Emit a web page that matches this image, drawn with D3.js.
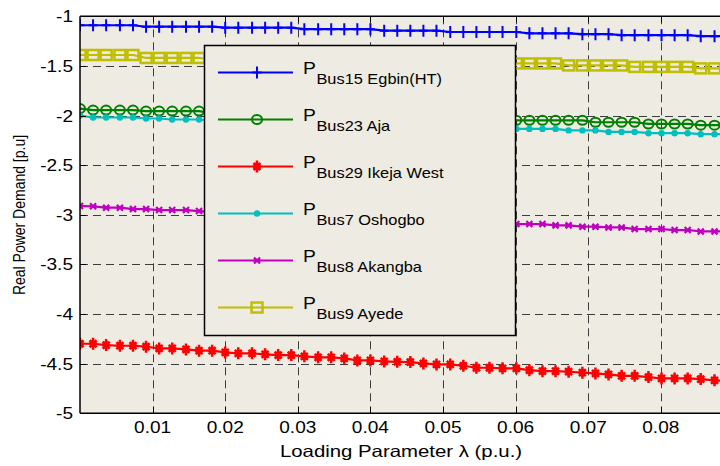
<!DOCTYPE html>
<html>
<head>
<meta charset="utf-8">
<script src="https://cdn.jsdelivr.net/npm/d3@7"></script>
<style>
  html, body { margin: 0; padding: 0; background: #ffffff; }
  svg { display: block; }
  text { font-family: "Liberation Sans", Arial, sans-serif; fill: #000; }
</style>
</head>
<body>
<svg id="chart" width="720" height="466"></svg>
<script>
// Loading parameter lambda (p.u.) at each continuation step
const lambda = [0, 0.0018, 0.0036, 0.0055, 0.0073, 0.0091, 0.0109, 0.0127, 0.0146, 0.0164,
  0.0182, 0.0200, 0.0218, 0.0237, 0.0255, 0.0273, 0.0291, 0.0309, 0.0328, 0.0346,
  0.0364, 0.0382, 0.0400, 0.0419, 0.0437, 0.0455, 0.0473, 0.0491, 0.0510, 0.0528,
  0.0546, 0.0564, 0.0582, 0.0601, 0.0619, 0.0637, 0.0655, 0.0673, 0.0692, 0.0710,
  0.0728, 0.0746, 0.0764, 0.0783, 0.0801, 0.0819, 0.0837, 0.0855, 0.0874, 0.0892];

// Real power demand per bus (p.u.)
const egbin = [-1.09, -1.09, -1.09, -1.09, -1.09, -1.105, -1.105, -1.105, -1.105, -1.105,
  -1.105, -1.115, -1.115, -1.115, -1.115, -1.115, -1.115, -1.13, -1.13, -1.13,
  -1.13, -1.13, -1.13, -1.145, -1.145, -1.145, -1.145, -1.145, -1.158, -1.158,
  -1.158, -1.158, -1.158, -1.158, -1.172, -1.172, -1.172, -1.172, -1.18, -1.18,
  -1.18, -1.19, -1.19, -1.19, -1.19, -1.19, -1.19, -1.20, -1.20, -1.20];

const aja = [-1.93, -1.945, -1.945, -1.945, -1.945, -1.955, -1.955, -1.955, -1.955, -1.955,
  -1.975, -1.975, -1.975, -1.975, -1.975, -1.975, -1.975, -1.995, -1.995, -1.995,
  -1.995, -1.995, -1.995, -2.015, -2.015, -2.015, -2.015, -2.015, -2.03, -2.03,
  -2.03, -2.03, -2.03, -2.048, -2.048, -2.048, -2.048, -2.048, -2.048, -2.068,
  -2.068, -2.068, -2.068, -2.085, -2.085, -2.085, -2.085, -2.097, -2.097, -2.097];

const ikejaWest = [-4.30, -4.30, -4.313, -4.32, -4.32, -4.33, -4.347, -4.347, -4.357, -4.37,
  -4.37, -4.387, -4.397, -4.397, -4.407, -4.414, -4.414, -4.427, -4.437, -4.437,
  -4.448, -4.468, -4.468, -4.478, -4.482, -4.485, -4.498, -4.508, -4.508, -4.522,
  -4.542, -4.542, -4.548, -4.548, -4.566, -4.576, -4.576, -4.582, -4.592, -4.599,
  -4.609, -4.623, -4.623, -4.636, -4.65, -4.65, -4.65, -4.656, -4.669, -4.675];

const oshogbo = [-2.0, -2.02, -2.02, -2.02, -2.02, -2.03, -2.03, -2.04, -2.04, -2.04,
  -2.055, -2.055, -2.055, -2.055, -2.055, -2.055, -2.075, -2.075, -2.075, -2.075,
  -2.075, -2.075, -2.095, -2.095, -2.095, -2.095, -2.095, -2.095, -2.115, -2.115,
  -2.115, -2.115, -2.115, -2.135, -2.135, -2.135, -2.135, -2.15, -2.15, -2.15,
  -2.165, -2.165, -2.165, -2.178, -2.178, -2.178, -2.178, -2.188, -2.188, -2.188];

const akangba = [-2.912, -2.915, -2.929, -2.929, -2.943, -2.943, -2.953, -2.953, -2.953, -2.963,
  -2.975, -2.975, -2.975, -2.975, -2.995, -2.995, -2.995, -2.995, -2.995, -3.02,
  -3.02, -3.02, -3.02, -3.02, -3.045, -3.045, -3.045, -3.045, -3.045, -3.07,
  -3.07, -3.07, -3.07, -3.094, -3.094, -3.094, -3.107, -3.107, -3.12, -3.12,
  -3.128, -3.128, -3.144, -3.144, -3.144, -3.154, -3.154, -3.168, -3.168, -3.168];

const ayede = [-1.39, -1.39, -1.39, -1.39, -1.39, -1.42, -1.42, -1.42, -1.42, -1.42,
  -1.43, -1.43, -1.43, -1.43, -1.43, -1.43, -1.43, -1.445, -1.445, -1.445,
  -1.445, -1.445, -1.445, -1.445, -1.445, -1.46, -1.46, -1.46, -1.46, -1.46,
  -1.46, -1.46, -1.46, -1.475, -1.475, -1.475, -1.475, -1.495, -1.495, -1.495,
  -1.495, -1.495, -1.51, -1.51, -1.51, -1.51, -1.51, -1.525, -1.525, -1.525];

const busLabels = ["Bus15 Egbin(HT)", "Bus23 Aja", "Bus29 Ikeja West", "Bus7 Oshogbo", "Bus8 Akangba", "Bus9 Ayede"];
const xTicks = [0.01, 0.02, 0.03, 0.04, 0.05, 0.06, 0.07, 0.08, 0.09];
const xTickLabels = ["0.01", "0.02", "0.03", "0.04", "0.05", "0.06", "0.07", "0.08"];
const yTicks = [-1, -1.5, -2, -2.5, -3, -3.5, -4, -4.5, -5];
const yTickLabels = ["-1", "-1.5", "-2", "-2.5", "-3", "-3.5", "-4", "-4.5", "-5"];

const series = [
  { values: egbin,     color: "#0000ff", marker: "plus" },
  { values: aja,       color: "#008000", marker: "circle" },
  { values: ikejaWest, color: "#ff0000", marker: "star" },
  { values: oshogbo,   color: "#00bfbf", marker: "dot" },
  { values: akangba,   color: "#bf00bf", marker: "cross" },
  { values: ayede,     color: "#bfbf00", marker: "square" }
];

const W = 720, H = 466;
const plot = { left: 80, top: 16.3, right: 733.4, bottom: 413.2 };
const bg = "#eeebe2";
const SX = 1.17; // horizontal text stretch

const svg = d3.select("#chart");
const x = d3.scaleLinear().domain([0, 0.09]).range([plot.left, plot.right]);
const y = d3.scaleLinear().domain([-5, -1]).range([plot.bottom, plot.top]);

// plot background
svg.append("rect")
  .attr("x", plot.left).attr("y", plot.top)
  .attr("width", plot.right - plot.left).attr("height", plot.bottom - plot.top)
  .attr("fill", bg);

svg.append("clipPath").attr("id", "plotClip").append("rect")
  .attr("x", plot.left).attr("y", plot.top - 8)
  .attr("width", plot.right - plot.left + 10).attr("height", plot.bottom - plot.top + 16);

// dashed grid
const grid = svg.append("g").attr("stroke", "#3c3c3c").attr("stroke-width", 1)
  .attr("stroke-dasharray", "8,5").attr("fill", "none");
grid.selectAll("line.gx").data(xTicks).join("line")
  .attr("x1", d => Math.round(x(d)) + 0.5).attr("x2", d => Math.round(x(d)) + 0.5)
  .attr("y1", plot.top).attr("y2", plot.bottom);
grid.selectAll("line.gy").data(yTicks.filter(d => d > -5 && d < -1)).join("line")
  .attr("x1", plot.left).attr("x2", plot.right)
  .attr("y1", d => Math.round(y(d)) + 0.5).attr("y2", d => Math.round(y(d)) + 0.5);

// marker shapes
function drawMarker(g, type, color) {
  if (type === "plus") {
    g.append("path").attr("d", "M-4.5,0H4.5M0,-6V6")
      .attr("stroke", color).attr("stroke-width", 2).attr("fill", "none");
  } else if (type === "circle") {
    g.append("ellipse").attr("rx", 5).attr("ry", 4.5)
      .attr("stroke", color).attr("stroke-width", 2).attr("fill", "none");
  } else if (type === "star") {
    g.append("path").attr("d", "M0,-6V6M-4,0H4M-3.5,-3.5L3.5,3.5M-3.5,3.5L3.5,-3.5")
      .attr("stroke", color).attr("stroke-width", 2.5).attr("fill", "none");
    g.append("ellipse").attr("rx", 3).attr("ry", 4).attr("fill", color);
  } else if (type === "dot") {
    g.append("circle").attr("r", 3.2).attr("fill", color);
  } else if (type === "cross") {
    g.append("path").attr("d", "M-3,-3L3,3M-3,3L3,-3M-3.5,0H3.5")
      .attr("stroke", color).attr("stroke-width", 2.2).attr("fill", "none");
  } else if (type === "square") {
    g.append("rect").attr("x", -5.5).attr("y", -5).attr("width", 11).attr("height", 10)
      .attr("stroke", color).attr("stroke-width", 2.5).attr("fill", "none");
  }
}

// series lines and markers
const data = svg.append("g").attr("clip-path", "url(#plotClip)");
series.forEach(s => {
  const pts = lambda.map((l, i) => [l, s.values[i]]);
  data.append("path")
    .attr("d", d3.line().x(d => x(d[0])).y(d => y(d[1]))(pts))
    .attr("fill", "none").attr("stroke", s.color).attr("stroke-width", 2.2)
    .attr("stroke-linejoin", "round");
  data.selectAll(null).data(pts).join("g")
    .attr("transform", d => `translate(${x(d[0])},${y(d[1])})`)
    .each(function () { drawMarker(d3.select(this), s.marker, s.color); });
});

// axes frame
const frame = svg.append("g").attr("stroke", "#000").attr("stroke-width", 1.5).attr("fill", "none");
frame.append("line").attr("x1", plot.left).attr("x2", plot.left).attr("y1", plot.top).attr("y2", plot.bottom);
frame.append("line").attr("x1", plot.left).attr("x2", W).attr("y1", plot.top).attr("y2", plot.top);
frame.append("line").attr("x1", plot.left).attr("x2", W).attr("y1", plot.bottom).attr("y2", plot.bottom);

// tick marks (inward)
const tickG = svg.append("g").attr("stroke", "#000").attr("stroke-width", 1);
tickG.selectAll("line.xb").data(xTicks).join("line")
  .attr("x1", d => Math.round(x(d)) + 0.5).attr("x2", d => Math.round(x(d)) + 0.5)
  .attr("y1", plot.bottom).attr("y2", plot.bottom - 6);
tickG.selectAll("line.xt").data(xTicks).join("line")
  .attr("x1", d => Math.round(x(d)) + 0.5).attr("x2", d => Math.round(x(d)) + 0.5)
  .attr("y1", plot.top).attr("y2", plot.top + 6);
tickG.selectAll("line.yl").data(yTicks).join("line")
  .attr("x1", plot.left).attr("x2", plot.left + 6)
  .attr("y1", d => Math.round(y(d)) + 0.5).attr("y2", d => Math.round(y(d)) + 0.5);

// tick labels
const fsTick = 16.3;
svg.append("g").selectAll("text").data(xTickLabels).join("text")
  .attr("transform", (d, i) => `translate(${x(xTicks[i])},433) scale(${SX},1)`)
  .attr("text-anchor", "middle").attr("font-size", fsTick)
  .text(d => d);
svg.append("g").selectAll("text").data(yTicks).join("text")
  .attr("transform", d => `translate(73,${y(d) + 6}) scale(${SX},1)`)
  .attr("text-anchor", "end").attr("font-size", fsTick)
  .text((d, i) => yTickLabels[i]);

// axis titles
svg.append("text")
  .attr("transform", `translate(401,457) scale(1.25,1)`)
  .attr("text-anchor", "middle").attr("font-size", 16.3)
  .text("Loading Parameter λ (p.u.)");
svg.append("text")
  .attr("transform", `translate(25,215) rotate(-90) scale(1,${SX})`)
  .attr("text-anchor", "middle").attr("font-size", 14)
  .text("Real Power Demand [p.u]");

// legend
const leg = { x: 204.5, y: 45.5, w: 311, h: 290 };
const lg = svg.append("g");
lg.append("rect").attr("x", leg.x).attr("y", leg.y).attr("width", leg.w).attr("height", leg.h)
  .attr("fill", bg).attr("stroke", "#000").attr("stroke-width", 1.5);
series.forEach((s, i) => {
  const cy = 72.5 + i * 47;
  const row = lg.append("g");
  row.append("line").attr("x1", 218).attr("x2", 293).attr("y1", cy).attr("y2", cy)
    .attr("stroke", s.color).attr("stroke-width", 2.2);
  drawMarker(row.append("g").attr("transform", `translate(257,${cy})`), s.marker, s.color);
  const t = row.append("text").attr("transform", `translate(303,${cy + 1}) scale(${SX},1)`);
  t.append("tspan").attr("font-size", 16.5).text("P");
  t.append("tspan").attr("font-size", 14).attr("dy", 10).attr("dx", 0.5).text(busLabels[i]);
});
</script>
</body>
</html>
